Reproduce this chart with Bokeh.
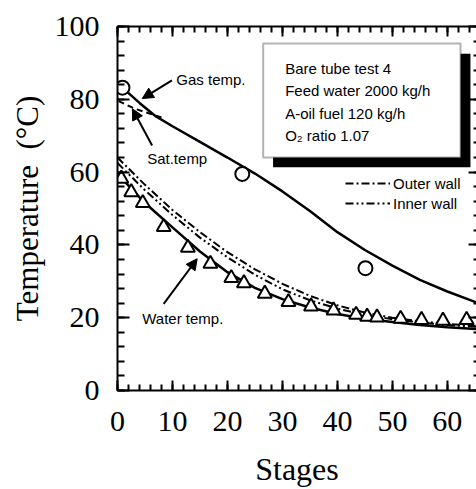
from bokeh.plotting import figure
from bokeh.models import (Range1d, LinearAxis, SingleIntervalTicker, Label, Arrow, NormalHead,
                          Legend, LegendItem, BoxAnnotation, CustomJSTickFormatter, Title)
from bokeh.embed import file_html
from bokeh.resources import INLINE

# ---------------- data ----------------
gas_meas_x = [0.9, 22.7, 45.1]
gas_meas_y = [83.2, 59.5, 33.6]

water_meas_x = [0.7, 2.5, 4.6, 8.4, 12.8, 16.9, 20.7, 23.0, 26.8, 31.1, 35.2, 39.3,
                43.4, 45.4, 47.2, 51.5, 55.3, 59.2, 63.5]
water_meas_y = [58.2, 54.5, 51.5, 44.9, 39.2, 34.8, 30.9, 29.5, 26.6, 24.3, 23.1, 22.0,
                20.8, 20.3, 20.1, 19.7, 19.4, 19.2, 19.4]

gas_line_x = [1.2, 4, 7, 10, 15, 20, 25, 30, 35, 40, 45, 50, 55, 60, 65.3]
gas_line_y = [82.8, 79.0, 75.3, 72.6, 68.3, 64.0, 59.6, 54.7, 49.3, 43.5, 38.6, 34.3, 30.4, 27.2, 24.2]

sat_x = [0.2, 3, 5, 8]
sat_y = [79.5, 77.5, 76.5, 75.0]

stages = [0, 5, 10, 15, 20, 25, 30, 35, 40, 45, 50, 55, 60, 65.3]
water_line_y = [59.5, 51.5, 44.8, 38.2, 32.5, 28.2, 25.1, 22.8, 21.0, 19.7, 18.8, 18.0, 17.4, 16.9]
outer_wall_y = [64.0, 56.5, 49.6, 43.5, 38.0, 33.3, 29.3, 26.0, 23.4, 21.4, 20.0, 19.0, 18.3, 17.8]
inner_wall_y = [62.5, 55.0, 48.2, 42.0, 36.6, 31.8, 27.8, 24.8, 22.5, 20.8, 19.6, 18.7, 18.0, 17.5]

info_lines = ["Bare tube test 4", "Feed water 2000 kg/h", "A-oil fuel 120 kg/h", "O\u2082 ratio 1.07"]

SANS = "Liberation Sans"
SERIF = "Liberation Serif"

p = figure(width=476, height=489, output_backend="svg", toolbar_location=None,
           x_range=Range1d(0, 65.3), y_range=Range1d(0, 100),
           x_axis_location=None, y_axis_location=None,
           min_border_left=117, min_border_right=0, min_border_top=26, min_border_bottom=99)
p.grid.grid_line_color = None
p.outline_line_color = None
p.background_fill_color = "white"
p.border_fill_color = "white"

blank = CustomJSTickFormatter(code="return ''")

def axis(ticker, major_in, minor_in, labels, line=True):
    ax = LinearAxis(ticker=ticker, major_tick_in=major_in, major_tick_out=0,
                    minor_tick_in=minor_in, minor_tick_out=0,
                    axis_line_width=2, major_tick_line_width=2, minor_tick_line_width=2,
                    axis_line_color="black" if line else None)
    if labels:
        ax.major_label_text_font = SERIF
        ax.major_label_text_font_size = "30px"
        ax.major_label_text_color = "black"
        ax.axis_label_text_font = SERIF
        ax.axis_label_text_font_style = "normal"
        ax.axis_label_text_color = "black"
    else:
        ax.formatter = blank
        ax.major_label_standoff = 0
    return ax

xb = axis(SingleIntervalTicker(interval=10, num_minor_ticks=5), 10, 6, True)
xb.major_label_standoff = 21
xb.axis_label = "Stages"
xb.axis_label_text_font_size = "32px"
xb.axis_label_standoff = 17
yl = axis(SingleIntervalTicker(interval=20, num_minor_ticks=5), 12, 7, True)
yl.major_label_standoff = 18
xt = axis(SingleIntervalTicker(interval=10, num_minor_ticks=5), 10, 6, False)
yr = axis(SingleIntervalTicker(interval=20, num_minor_ticks=5), 8, 3, False, line=False)
p.add_layout(xb, "below")
p.add_layout(yl, "left")
p.add_layout(xt, "above")
p.add_layout(yr, "right")

ytitle = Title(text="Temperature\u00a0 (\u00b0C)", align="center", offset=50,
               text_font=SERIF, text_font_size="31px", text_font_style="normal",
               text_color="black", standoff=13)
p.add_layout(ytitle, "left")

# ---------------- lines ----------------
p.line(gas_line_x, gas_line_y, line_color="black", line_width=2.5)
p.line(sat_x, sat_y, line_color="black", line_width=2, line_dash="6 4")
r_outer = p.line(stages, outer_wall_y, line_color="black", line_width=2, line_dash="8 3 2 3")
r_inner = p.line(stages, inner_wall_y, line_color="black", line_width=2, line_dash="8 3 2 3 2 3")
p.line(stages, water_line_y, line_color="black", line_width=2.5)

p.scatter(gas_meas_x, gas_meas_y, marker="circle", size=14, fill_color="white",
          line_color="black", line_width=2)
p.scatter(water_meas_x, water_meas_y, marker="triangle", size=14, fill_color="white",
          line_color="black", line_width=2)

# ---------------- info box ----------------
p.add_layout(BoxAnnotation(left=28.3, right=64.2, top=92.5, bottom=61.3,
                           fill_color="black", fill_alpha=1, line_color=None))
p.add_layout(BoxAnnotation(left=26.5, right=62.4, top=95.3, bottom=64.0,
                           fill_color="white", fill_alpha=1, line_color="black", line_width=2))
for txt, yy in zip(info_lines, [88.5, 82.4, 76.1, 70.1]):
    p.add_layout(Label(x=30.5, y=yy, text=txt, text_font=SANS, text_font_size="15px",
                       text_baseline="middle", text_color="black"))

# ---------------- legend ----------------
leg = Legend(items=[LegendItem(label="Outer wall", renderers=[r_outer]),
                    LegendItem(label="Inner wall", renderers=[r_inner])],
             location=(228, 177), glyph_width=45, glyph_height=20, label_height=20,
             label_standoff=3, padding=0, margin=0, spacing=0,
             border_line_color=None, background_fill_alpha=0,
             label_text_font=SANS, label_text_font_size="15px", label_text_color="black")
p.add_layout(leg)

# ---------------- annotations ----------------
def note(x, y, t):
    p.add_layout(Label(x=x, y=y, text=t, text_font=SANS, text_font_size="15px",
                       text_baseline="middle", text_color="black"))

def arrow(x0, y0, x1, y1):
    p.add_layout(Arrow(end=NormalHead(size=11, fill_color="black", line_color="black"),
                       x_start=x0, y_start=y0, x_end=x1, y_end=y1,
                       line_color="black", line_width=2))

note(10.7, 85.4, "Gas temp.")
arrow(9.9, 85.2, 4.5, 80.2)
note(5.4, 63.7, "Sat.temp")
arrow(6.3, 67.3, 2.7, 77.4)
note(4.5, 19.7, "Water temp.")
arrow(8.4, 23.8, 14.5, 36.2)

open("out.html", "w").write(file_html(p, INLINE))
